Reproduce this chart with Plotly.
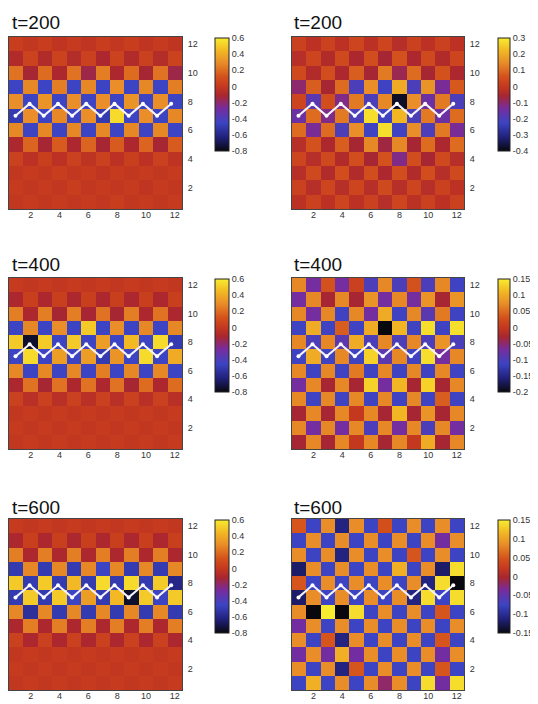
import plotly.graph_objects as go

# ---------------- data ----------------
cols = list(range(1, 13))
rows_top_down = list(range(12, 0, -1))
titles = ["t=200", "t=200", "t=400", "t=400", "t=600", "t=600"]

chain_x = [0.95, 1.93, 2.91, 3.9, 4.88, 5.86, 6.84, 7.82, 8.8, 9.79, 10.77, 11.75]
chain_y = [7.0, 7.85, 7.0, 7.85, 7.0, 7.85, 7.0, 7.85, 7.0, 7.85, 7.0, 7.85]

# rows listed from y=12 (top) to y=1 (bottom)
z_a = [
    [0.02, -0.01, 0.02, -0.02, 0.01, -0.02, 0.02, -0.01, 0.02, -0.02, 0.01, -0.02],
    [-0.08, 0.05, -0.08, 0.05, -0.07, 0.04, -0.1, 0.05, -0.08, 0.04, -0.07, 0.05],
    [0.22, -0.12, 0.2, -0.1, 0.22, -0.15, 0.25, -0.1, 0.2, -0.12, 0.22, -0.15],
    [-0.45, 0.28, -0.45, 0.25, -0.45, 0.28, -0.45, 0.3, -0.45, 0.28, -0.45, 0.25],
    [0.3, -0.45, 0.32, -0.45, 0.3, -0.45, 0.3, -0.45, 0.32, -0.45, 0.3, -0.45],
    [-0.5, 0.3, -0.45, 0.28, -0.45, 0.3, -0.5, 0.55, -0.45, 0.3, -0.45, 0.28],
    [0.28, -0.45, 0.28, -0.45, 0.28, -0.45, 0.28, -0.45, 0.28, -0.45, 0.28, -0.45],
    [-0.1, 0.18, -0.12, 0.15, -0.1, 0.18, -0.12, 0.15, -0.1, 0.18, -0.12, 0.15],
    [0.04, -0.04, 0.03, -0.04, 0.04, -0.03, 0.04, -0.04, 0.03, -0.04, 0.04, -0.03],
    [-0.01, 0.01, -0.01, 0.02, -0.01, 0.01, -0.02, 0.01, -0.01, 0.01, -0.01, 0.01],
    [0.01, -0.01, 0.01, -0.01, 0.02, -0.01, 0.01, -0.01, 0.01, -0.02, 0.01, -0.01],
    [-0.01, 0.01, -0.01, 0.01, -0.01, 0.01, -0.01, 0.02, -0.01, 0.01, -0.01, 0.01],
]
z_b = [
    [0.02, -0.02, 0.02, -0.02, 0.03, -0.02, 0.03, -0.03, 0.02, -0.02, 0.02, -0.02],
    [-0.03, 0.03, -0.04, 0.04, -0.05, 0.05, -0.06, 0.06, -0.05, 0.04, -0.04, 0.03],
    [0.04, -0.04, 0.05, -0.05, 0.08, -0.06, 0.12, -0.08, 0.1, -0.06, 0.06, -0.05],
    [-0.1, 0.08, -0.06, 0.1, -0.2, 0.15, -0.22, 0.2, -0.2, 0.16, -0.13, 0.07],
    [0.03, -0.18, 0.05, -0.12, 0.12, -0.2, 0.14, -0.38, 0.15, -0.15, 0.12, -0.2],
    [-0.15, 0.1, -0.12, 0.12, -0.2, 0.28, -0.22, 0.22, -0.2, 0.12, -0.15, 0.1],
    [0.1, -0.13, 0.1, -0.2, 0.15, -0.22, 0.28, -0.22, 0.15, -0.2, 0.12, -0.13],
    [-0.03, 0.06, -0.05, 0.08, -0.06, 0.14, -0.07, 0.14, -0.06, 0.1, -0.05, 0.1],
    [0.03, -0.03, 0.04, -0.04, 0.05, -0.06, 0.06, -0.12, 0.05, -0.06, 0.04, -0.03],
    [-0.03, 0.04, -0.04, 0.05, -0.04, 0.05, -0.05, 0.05, -0.04, 0.05, -0.03, 0.04],
    [0.02, -0.03, 0.03, -0.03, 0.03, -0.03, 0.04, -0.03, 0.03, -0.03, 0.02, -0.02],
    [-0.02, 0.02, -0.02, 0.03, -0.02, 0.02, -0.03, 0.03, -0.02, 0.02, -0.02, 0.02],
]
z_c = [
    [0.01, -0.01, 0.01, -0.01, 0.01, -0.01, 0.01, -0.01, 0.01, -0.01, 0.01, -0.01],
    [-0.1, 0.03, -0.1, 0.03, -0.1, 0.03, -0.1, 0.03, -0.1, 0.03, -0.1, 0.03],
    [0.25, -0.1, 0.25, -0.12, 0.25, -0.12, 0.22, -0.12, 0.25, -0.1, 0.22, -0.1],
    [-0.45, 0.28, -0.45, 0.3, -0.45, 0.5, -0.45, 0.3, -0.45, 0.28, -0.45, 0.28],
    [0.5, -0.75, 0.5, -0.45, 0.5, -0.45, 0.35, -0.45, 0.45, -0.45, 0.55, -0.5],
    [-0.45, 0.55, -0.45, 0.35, -0.45, 0.35, -0.5, 0.32, -0.45, 0.55, -0.45, 0.4],
    [0.28, -0.45, 0.28, -0.45, 0.28, -0.45, 0.25, -0.45, 0.28, -0.45, 0.28, -0.45],
    [-0.1, 0.22, -0.12, 0.22, -0.1, 0.22, -0.1, 0.22, -0.12, 0.2, -0.1, 0.2],
    [0.04, -0.05, 0.04, -0.05, 0.04, -0.05, 0.04, -0.05, 0.04, -0.05, 0.04, -0.05],
    [-0.01, 0.01, -0.01, 0.01, -0.01, 0.01, -0.01, 0.01, -0.01, 0.01, -0.01, 0.01],
    [0.01, -0.01, 0.01, -0.01, 0.01, -0.01, 0.01, -0.01, 0.01, -0.01, 0.01, -0.01],
    [-0.01, 0.01, -0.01, 0.01, -0.01, 0.01, -0.01, 0.01, -0.01, 0.01, -0.01, 0.01],
]
z_d = [
    [0.07, -0.07, 0.03, -0.07, 0.01, -0.1, 0.07, -0.1, 0.03, -0.1, 0.07, -0.11],
    [-0.07, 0.07, -0.03, 0.07, -0.03, 0.08, -0.07, 0.07, -0.07, 0.08, -0.03, 0.08],
    [0.07, -0.07, 0.07, -0.11, 0.07, -0.07, 0.1, -0.11, 0.07, -0.09, 0.06, -0.11],
    [-0.11, 0.1, -0.11, 0.04, -0.11, 0.1, -0.2, 0.11, -0.11, 0.14, -0.11, 0.14],
    [0.07, -0.1, 0.07, -0.09, 0.1, -0.1, 0.07, -0.1, 0.07, -0.1, 0.08, -0.1],
    [-0.11, 0.1, -0.11, 0.07, -0.11, 0.13, -0.09, 0.07, -0.11, 0.14, -0.07, 0.07],
    [0.07, -0.11, 0.07, -0.11, 0.06, -0.11, 0.07, -0.11, 0.07, -0.11, 0.07, -0.11],
    [-0.07, 0.07, -0.03, 0.07, -0.03, 0.13, -0.07, 0.11, -0.03, 0.13, -0.03, 0.07],
    [0.07, -0.11, 0.07, -0.11, 0.07, -0.11, 0.07, -0.11, 0.07, -0.11, 0.04, -0.11],
    [-0.03, 0.07, -0.03, 0.07, 0.0, 0.07, -0.03, 0.11, -0.03, 0.08, -0.03, 0.07],
    [0.07, -0.07, 0.07, -0.07, 0.07, -0.1, 0.07, -0.07, 0.07, -0.1, 0.07, -0.07],
    [-0.03, 0.07, -0.03, 0.07, 0.0, 0.07, -0.03, 0.07, 0.0, 0.1, -0.03, 0.07],
]
z_e = [
    [0.01, -0.01, 0.01, -0.01, 0.01, -0.01, 0.01, -0.01, 0.01, -0.01, 0.01, -0.01],
    [-0.1, 0.03, -0.1, 0.03, -0.1, 0.03, -0.1, 0.03, -0.1, 0.03, -0.1, 0.03],
    [0.25, -0.1, 0.25, -0.1, 0.25, -0.1, 0.25, -0.1, 0.25, -0.1, 0.25, -0.1],
    [-0.5, 0.28, -0.5, 0.28, -0.5, 0.28, -0.45, 0.28, -0.5, 0.28, -0.5, 0.28],
    [0.5, -0.5, 0.5, -0.5, 0.45, -0.5, 0.55, -0.5, 0.55, -0.5, 0.5, -0.6],
    [-0.5, 0.5, -0.5, 0.5, -0.45, 0.35, -0.5, 0.45, -0.75, 0.5, -0.45, 0.5],
    [0.28, -0.55, 0.28, -0.5, 0.28, -0.5, 0.28, -0.5, 0.28, -0.5, 0.28, -0.5],
    [-0.1, 0.25, -0.1, 0.25, -0.1, 0.25, -0.1, 0.25, -0.1, 0.25, -0.1, 0.25],
    [0.04, -0.1, 0.04, -0.1, 0.04, -0.1, 0.04, -0.1, 0.04, -0.1, 0.04, -0.1],
    [-0.01, 0.01, -0.01, 0.01, -0.01, 0.01, -0.01, 0.01, -0.01, 0.01, -0.01, 0.01],
    [0.01, -0.01, 0.01, -0.01, 0.01, -0.01, 0.01, -0.01, 0.01, -0.01, 0.01, -0.01],
    [-0.01, 0.01, -0.01, 0.01, -0.01, 0.01, -0.01, 0.01, -0.01, 0.01, -0.01, 0.01],
]
z_f = [
    [0.05, -0.075, 0.085, -0.11, 0.085, -0.075, 0.045, -0.075, 0.085, -0.075, 0.085, -0.075],
    [-0.075, 0.085, -0.075, 0.085, -0.075, 0.085, -0.075, 0.085, -0.075, 0.085, -0.04, 0.085],
    [0.085, -0.075, 0.085, -0.11, 0.085, -0.075, 0.085, -0.075, 0.05, -0.075, 0.085, -0.075],
    [-0.12, 0.085, -0.075, 0.085, -0.075, 0.085, -0.075, 0.11, -0.075, 0.085, -0.12, 0.14],
    [0.05, -0.075, 0.085, -0.075, 0.085, -0.075, 0.085, -0.075, 0.085, -0.11, 0.14, -0.15],
    [-0.12, 0.085, -0.075, 0.085, -0.075, 0.085, -0.075, 0.085, -0.11, 0.14, -0.075, 0.14],
    [0.085, -0.15, 0.15, -0.15, 0.14, -0.075, 0.085, -0.075, 0.085, -0.075, 0.05, -0.075],
    [-0.04, 0.085, -0.075, 0.085, -0.075, 0.085, -0.075, 0.085, -0.075, 0.085, -0.075, 0.085],
    [0.085, -0.075, 0.05, -0.11, 0.085, -0.075, 0.085, -0.075, 0.085, -0.075, 0.05, -0.075],
    [-0.04, 0.085, -0.04, 0.11, -0.04, 0.085, -0.075, 0.085, -0.075, 0.085, -0.04, 0.085],
    [0.085, -0.075, 0.085, -0.11, 0.05, -0.075, 0.085, -0.075, 0.085, -0.075, 0.05, -0.075],
    [-0.075, 0.11, -0.075, 0.085, -0.075, 0.085, -0.02, 0.085, -0.075, 0.14, -0.04, 0.14],
]
panels_z = [z_a, z_b, z_c, z_d, z_e, z_f]

zranges = [(-0.8, 0.6), (-0.4, 0.3), (-0.8, 0.6), (-0.2, 0.15), (-0.8, 0.6), (-0.15, 0.15)]
cb_vals = [
    [0.6, 0.4, 0.2, 0, -0.2, -0.4, -0.6, -0.8],
    [0.3, 0.2, 0.1, 0, -0.1, -0.2, -0.3, -0.4],
    [0.6, 0.4, 0.2, 0, -0.2, -0.4, -0.6, -0.8],
    [0.15, 0.1, 0.05, 0, -0.05, -0.1, -0.15, -0.2],
    [0.6, 0.4, 0.2, 0, -0.2, -0.4, -0.6, -0.8],
    [0.15, 0.1, 0.05, 0, -0.05, -0.1, -0.15],
]
cb_text = [
    ["0.6", "0.4", "0.2", "0", "-0.2", "-0.4", "-0.6", "-0.8"],
    ["0.3", "0.2", "0.1", "0", "-0.1", "-0.2", "-0.3", "-0.4"],
    ["0.6", "0.4", "0.2", "0", "-0.2", "-0.4", "-0.6", "-0.8"],
    ["0.15", "0.1", "0.05", "0", "-0.05", "-0.1", "-0.15", "-0.2"],
    ["0.6", "0.4", "0.2", "0", "-0.2", "-0.4", "-0.6", "-0.8"],
    ["0.15", "0.1", "0.05", "0", "-0.05", "-0.1", "-0.15"],
]
axis_ticks = [2, 4, 6, 8, 10, 12]

# ---------------- style ----------------
OFF = 8  # page body margin offset
W, H = 538 - OFF, 704 - OFF
cscale = [
    [0.0, "#08080e"], [0.12, "#20207a"], [0.25, "#3c44c4"], [0.38, "#782c9c"],
    [0.49, "#a82630"], [0.57, "#c4381f"], [0.66, "#d4521c"], [0.78, "#e88c28"],
    [0.89, "#f2b824"], [1.0, "#f8ec30"],
]
col_px = [(9, 182), (292, 464)]
row_px = [(37, 209), (278, 449), (519, 690)]
cbar_px_x = [215, 498]
cbar_thick = [14, 12]
title_cy = [22.5, 264.5, 507]
title_x = [10, 292]
FONT = "Liberation Sans, Arial, sans-serif"


def px_x(p):
    return (p - OFF) / W


def px_y(p):
    return 1 - (p - OFF) / H


fig = go.Figure()
layout = dict(
    width=W, height=H, margin=dict(l=0, r=0, t=0, b=0, autoexpand=False),
    paper_bgcolor="white", plot_bgcolor="white", showlegend=False,
    annotations=[],
)

for i in range(6):
    r, c = divmod(i, 2)
    n = i + 1
    xa = "x" if n == 1 else f"x{n}"
    ya = "y" if n == 1 else f"y{n}"
    x0, x1 = col_px[c]
    y0, y1 = row_px[r]
    zmin, zmax = zranges[i]
    fig.add_trace(go.Heatmap(
        z=panels_z[i], x=cols, y=rows_top_down, xaxis=xa, yaxis=ya,
        colorscale=cscale, zmin=zmin, zmax=zmax,
        colorbar=dict(
            x=px_x(cbar_px_x[c]), xanchor="left", xpad=0,
            y=px_y(y0 + 1), yanchor="top", ypad=0,
            lenmode="pixels", len=113,
            thicknessmode="pixels", thickness=cbar_thick[c],
            outlinewidth=1, outlinecolor="#222",
            tickvals=cb_vals[i], ticktext=cb_text[i],
            ticks="", ticklabelposition="outside",
            tickfont=dict(family=FONT, size=9, color="#333"),
        ),
        hoverinfo="skip",
    ))
    fig.add_trace(go.Scatter(
        x=chain_x, y=chain_y, xaxis=xa, yaxis=ya, mode="lines+markers",
        line=dict(color="#f4f2ff", width=2),
        marker=dict(color="#ffffff", size=4),
        hoverinfo="skip",
    ))
    key_x = "xaxis" if n == 1 else f"xaxis{n}"
    key_y = "yaxis" if n == 1 else f"yaxis{n}"
    layout[key_x] = dict(
        domain=[px_x(x0), px_x(x1)], anchor=ya, range=[0.5, 12.5],
        tickvals=axis_ticks, ticks="", showgrid=False, zeroline=False,
        showline=True, linecolor="#444", linewidth=1, mirror=True,
        ticklabelstandoff=-3,
        tickfont=dict(family=FONT, size=9, color="#333"),
    )
    layout[key_y] = dict(
        domain=[px_y(y1), px_y(y0)], anchor=xa, range=[0.5, 12.5],
        side="right", tickvals=axis_ticks, ticks="", showgrid=False,
        zeroline=False, showline=True, linecolor="#444", linewidth=1,
        mirror=True, ticklabelstandoff=3,
        tickfont=dict(family=FONT, size=9, color="#333"),
    )
    layout["annotations"].append(dict(
        text=titles[i], xref="paper", yref="paper",
        x=px_x(title_x[c]), y=px_y(title_cy[r]), xanchor="left",
        yanchor="middle", showarrow=False,
        font=dict(family=FONT, size=19, color="#111"),
    ))

fig.update_layout(**layout)
fig.write_html("out.html")
